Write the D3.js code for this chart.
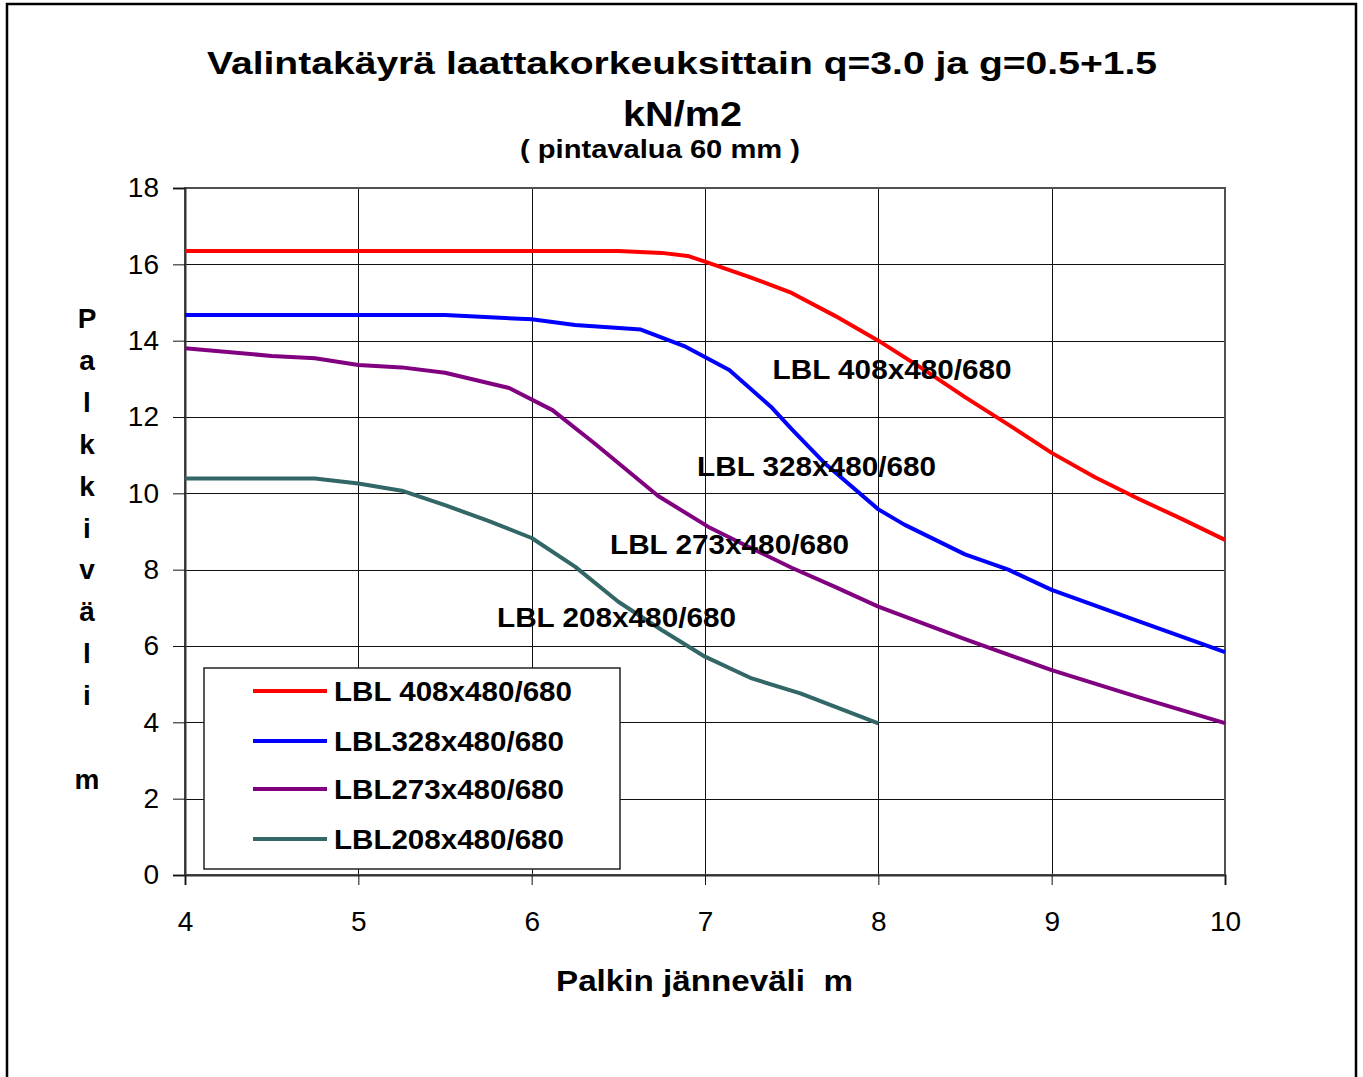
<!DOCTYPE html>
<html>
<head>
<meta charset="utf-8">
<script src="https://cdn.jsdelivr.net/npm/d3@7"></script>
<style>
  html, body { margin: 0; padding: 0; background: #fff; }
  svg { display: block; }
  text { font-family: "Liberation Sans", Arial, Helvetica, sans-serif; fill: #000; white-space: pre; }
</style>
</head>
<body>
<svg id="chart" width="1363" height="1077"></svg>
<script>
// ---- Data ----
const seriesNames = ["LBL 408x480/680", "LBL328x480/680", "LBL273x480/680", "LBL208x480/680"];
const annotationNames = ["LBL 408x480/680", "LBL 328x480/680", "LBL 273x480/680", "LBL 208x480/680"];
const seriesColors = ["#ff0000", "#0000ff", "#800080", "#336666"];

const x408 = [4, 4.5, 5, 5.5, 6, 6.5, 6.75, 6.9, 7.0, 7.25, 7.5, 7.75, 8.0, 8.25, 8.5, 8.75, 9.0, 9.25, 9.5, 9.75, 10];
const y408 = [16.35, 16.35, 16.35, 16.35, 16.35, 16.35, 16.3, 16.22, 16.07, 15.68, 15.25, 14.65, 14.0, 13.28, 12.52, 11.8, 11.06, 10.42, 9.86, 9.33, 8.78];

const x328 = [4, 4.5, 5, 5.5, 6, 6.25, 6.63, 6.88, 7.14, 7.38, 7.5, 7.69, 8.0, 8.15, 8.5, 8.75, 9.0, 9.5, 10];
const y328 = [14.67, 14.67, 14.67, 14.67, 14.56, 14.41, 14.29, 13.86, 13.23, 12.27, 11.68, 10.79, 9.58, 9.18, 8.4, 8.0, 7.47, 6.65, 5.84];

const x273 = [4, 4.5, 4.75, 5, 5.25, 5.5, 5.87, 6.12, 6.36, 6.73, 7.02, 7.25, 7.5, 7.75, 8.0, 8.5, 9.0, 9.5, 10];
const y273 = [13.8, 13.6, 13.54, 13.36, 13.3, 13.16, 12.76, 12.18, 11.32, 9.93, 9.12, 8.6, 8.05, 7.55, 7.03, 6.18, 5.37, 4.66, 3.98];

const x208 = [4, 4.5, 4.75, 5, 5.25, 5.5, 5.75, 6, 6.25, 6.5, 6.75, 7, 7.27, 7.55, 8];
const y208 = [10.39, 10.39, 10.39, 10.26, 10.07, 9.69, 9.28, 8.83, 8.08, 7.16, 6.42, 5.72, 5.15, 4.76, 3.97];

const xTicks = [4, 5, 6, 7, 8, 9, 10];
const yTicks = [0, 2, 4, 6, 8, 10, 12, 14, 16, 18];

const titleLine1 = "Valintakäyrä laattakorkeuksittain q=3.0 ja g=0.5+1.5";
const titleLine2 = "kN/m2";
const subtitle = "( pintavalua 60 mm )";
const xTitle = "Palkin jänneväli  m";
const yTitle = "Palkkiväli m";

// ---- Layout ----
const svg = d3.select("#chart");
const plot = { left: 185, right: 1225, top: 188, bottom: 875 };
const x = d3.scaleLinear().domain([4, 10]).range([plot.left, plot.right]);
const y = d3.scaleLinear().domain([0, 18]).range([plot.bottom, plot.top]);

// outer frame
svg.append("rect").attr("x", 7).attr("y", 4).attr("width", 1349).attr("height", 1090)
  .attr("fill", "none").attr("stroke", "#000").attr("stroke-width", 2.5);

// gridlines
svg.append("g").attr("transform", `translate(0,${plot.bottom})`)
  .call(d3.axisBottom(x).tickValues(xTicks).tickSize(-(plot.bottom - plot.top)).tickFormat(""))
  .call(g => g.select(".domain").remove())
  .call(g => g.selectAll("line").attr("stroke", "#111").attr("stroke-width", 1).attr("shape-rendering", "crispEdges"));
svg.append("g").attr("transform", `translate(${plot.left},0)`)
  .call(d3.axisLeft(y).tickValues(yTicks).tickSize(-(plot.right - plot.left)).tickFormat(""))
  .call(g => g.select(".domain").remove())
  .call(g => g.selectAll("line").attr("stroke", "#111").attr("stroke-width", 1).attr("shape-rendering", "crispEdges"));

// plot frame
svg.append("rect").attr("x", plot.left).attr("y", plot.top)
  .attr("width", plot.right - plot.left).attr("height", plot.bottom - plot.top)
  .attr("fill", "none").attr("stroke", "#505050").attr("stroke-width", 2);

// axes
const yAxis = svg.append("g").attr("transform", `translate(${plot.left},0)`)
  .call(d3.axisLeft(y).tickValues(yTicks).tickSize(12).tickPadding(14).tickFormat(d3.format("d")));
yAxis.select(".domain").attr("stroke", "#333").attr("stroke-width", 2);
yAxis.selectAll("line").attr("stroke", "#111");
yAxis.selectAll("text").style("font-size", "28px").attr("font-family", "Liberation Sans, Arial, sans-serif");

const xAxis = svg.append("g").attr("transform", `translate(0,${plot.bottom})`)
  .call(d3.axisBottom(x).tickValues(xTicks).tickSize(10).tickPadding(26).tickFormat(d3.format("d")));
xAxis.select(".domain").attr("stroke", "#333").attr("stroke-width", 2);
xAxis.selectAll("line").attr("stroke", "#111");
xAxis.selectAll("text").style("font-size", "28px").attr("font-family", "Liberation Sans, Arial, sans-serif");

// series
const seriesData = [
  d3.zip(x408, y408),
  d3.zip(x328, y328),
  d3.zip(x273, y273),
  d3.zip(x208, y208)
];
const line = d3.line().x(d => x(d[0])).y(d => y(d[1]));
seriesData.forEach((pts, i) => {
  svg.append("path").datum(pts)
    .attr("d", line)
    .attr("fill", "none")
    .attr("stroke", seriesColors[i])
    .attr("stroke-width", 4)
    .attr("stroke-linejoin", "round");
});

// inline annotations (anchored in data coordinates)
const annX = [7.39, 6.954, 6.452, 5.80];
const annY = [12.99, 10.45, 8.41, 6.50];
annotationNames.forEach((t, i) => {
  svg.append("text")
    .attr("x", x(annX[i])).attr("y", y(annY[i]))
    .attr("font-size", 28).attr("font-weight", "bold")
    .attr("textLength", 239).attr("lengthAdjust", "spacingAndGlyphs")
    .text(t);
});

// titles
svg.append("text").attr("x", 207).attr("y", 74)
  .attr("font-size", 32).attr("font-weight", "bold")
  .attr("textLength", 950).attr("lengthAdjust", "spacingAndGlyphs")
  .text(titleLine1);
svg.append("text").attr("x", 623).attr("y", 126)
  .attr("font-size", 35).attr("font-weight", "bold")
  .attr("textLength", 119).attr("lengthAdjust", "spacingAndGlyphs")
  .text(titleLine2);
svg.append("text").attr("x", 520).attr("y", 158)
  .attr("font-size", 25).attr("font-weight", "bold")
  .attr("textLength", 280).attr("lengthAdjust", "spacingAndGlyphs")
  .text(subtitle);

// x axis title
svg.append("text").attr("x", 556).attr("y", 991)
  .attr("font-size", 29).attr("font-weight", "bold")
  .attr("xml:space", "preserve")
  .attr("textLength", 297).attr("lengthAdjust", "spacingAndGlyphs")
  .text(xTitle);

// y axis title: stacked letters
const yChars = Array.from("Palkkiväli").concat([" ", "m"]);
const yT = svg.append("text").attr("font-size", 28).attr("font-weight", "bold").attr("text-anchor", "middle");
yChars.forEach((c, i) => {
  yT.append("tspan").attr("x", 87).attr("y", 328 + i * 41.9).text(c === " " ? "\u00a0" : c);
});

// legend
const lg = svg.append("g");
lg.append("rect").attr("x", 204).attr("y", 668).attr("width", 416).attr("height", 201)
  .attr("fill", "#fff").attr("stroke", "#222").attr("stroke-width", 1.5);
const legY = [691, 741, 789, 839];
const legW = [238, 230, 230, 230];
seriesNames.forEach((t, i) => {
  lg.append("line").attr("x1", 253).attr("x2", 327).attr("y1", legY[i]).attr("y2", legY[i])
    .attr("stroke", seriesColors[i]).attr("stroke-width", 4);
  lg.append("text").attr("x", 334).attr("y", legY[i] + 10)
    .attr("font-size", 28).attr("font-weight", "bold")
    .attr("textLength", legW[i]).attr("lengthAdjust", "spacingAndGlyphs")
    .text(t);
});
</script>
</body>
</html>
